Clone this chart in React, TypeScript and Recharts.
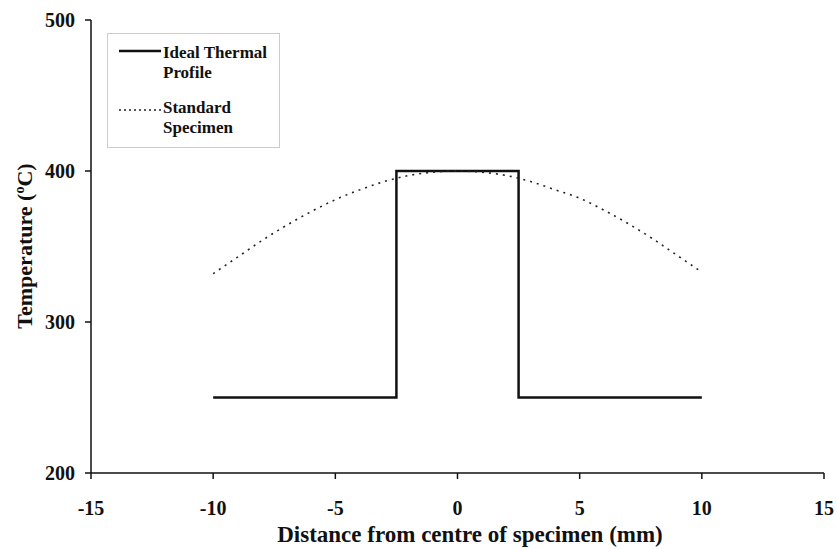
import React from 'react';
import { LineChart, Line, XAxis, YAxis } from 'recharts';

// distance from specimen centre (mm) / temperature (°C)
const idealX = [-10, -2.5, -2.5, 2.5, 2.5, 10];
const idealT = [250, 250, 400, 400, 250, 250];

const specimenX = [-10, -9, -8, -7, -6, -5, -4, -3, -2, -1, 0, 1, 2, 3, 4, 5, 6, 7, 8, 9, 10];
const specimenT = [332, 343, 354, 364, 373, 381, 387.5, 393, 397, 399.2, 400, 399.2, 397, 393, 387.5, 382, 374, 365, 355, 344, 333];

const xTicks = [-15, -10, -5, 0, 5, 10, 15];
const yTicks = [200, 300, 400, 500];

const idealData = idealX.map((x, i) => ({ x, t: idealT[i] }));
const specimenData = specimenX.map((x, i) => ({ x, t: specimenT[i] }));

const FONT = '"Liberation Serif", "Times New Roman", serif';

const tickStyle = { fontFamily: FONT, fontWeight: 700, fontSize: 20, fill: '#111' };
const titleStyle = { fontFamily: FONT, fontWeight: 700, fontSize: 22, fill: '#111' };
const legendStyle = { fontFamily: FONT, fontWeight: 700, fontSize: 17, fill: '#111' };

const XLabel = () => (
  <text x={470} y={542} textAnchor="middle" style={{ ...titleStyle, fontSize: 23 }}>
    Distance from centre of specimen (mm)
  </text>
);

const YLabel = () => (
  <text x={0} y={0} transform="translate(32, 246) rotate(-90)" textAnchor="middle" style={titleStyle}>
    Temperature (<tspan dy={-8} fontSize={14}>o</tspan>
    <tspan dy={8}>C)</tspan>
  </text>
);

const LegendBox = () => (
  <svg width={174} height={116} style={{ display: 'block' }}>
    <rect x={0.5} y={0.5} width={172} height={114} fill="#fff" stroke="#999" strokeDasharray="1 1" />
    <line x1={12} x2={54} y1={18} y2={18} stroke="#111" strokeWidth={2.5} />
    <text x={56} y={25} style={legendStyle}>Ideal Thermal</text>
    <text x={56} y={45} style={legendStyle}>Profile</text>
    <line x1={12} x2={54} y1={77} y2={77} stroke="#222" strokeWidth={1.5} strokeDasharray="2 3" />
    <text x={56} y={80} style={legendStyle}>Standard</text>
    <text x={56} y={100} style={legendStyle}>Specimen</text>
  </svg>
);

export default function App() {
  return (
    <div style={{ position: 'absolute', left: 0, top: 0, width: 837, height: 549, background: '#fff' }}>
      <LineChart width={837} height={549} margin={{ top: 20, right: 13, bottom: 36, left: 31 }}>
        <XAxis
          dataKey="x"
          type="number"
          domain={[-15, 15]}
          ticks={xTicks}
          allowDuplicatedCategory={false}
          stroke="#111"
          strokeWidth={1.5}
          tickSize={6}
          tickMargin={22}
          tick={tickStyle}
          height={40}
          label={{ content: () => <XLabel /> }}
        />
        <XAxis
          xAxisId="top"
          orientation="top"
          type="number"
          domain={[-15, 15]}
          tick={false}
          tickLine={false}
          stroke="#111"
          height={0}
        />
        <YAxis
          dataKey="t"
          type="number"
          domain={[200, 500]}
          ticks={yTicks}
          stroke="#111"
          strokeWidth={1.5}
          tickSize={6}
          tickMargin={10}
          tick={tickStyle}
          width={60}
          label={{ content: () => <YLabel /> }}
        />
        <YAxis
          yAxisId="right"
          orientation="right"
          type="number"
          domain={[200, 500]}
          tick={false}
          tickLine={false}
          stroke="#111"
          width={0}
        />
        <Line
          data={idealData}
          dataKey="t"
          name="Ideal Thermal Profile"
          type="linear"
          stroke="#111"
          strokeWidth={2.5}
          dot={false}
          isAnimationActive={false}
        />
        <Line
          data={specimenData}
          dataKey="t"
          name="Standard Specimen"
          type="monotone"
          stroke="#222"
          strokeWidth={1.6}
          strokeDasharray="2 5"
          dot={false}
          isAnimationActive={false}
        />
      </LineChart>
      <div style={{ position: 'absolute', left: 107, top: 33 }}>
        <LegendBox />
      </div>
    </div>
  );
}
